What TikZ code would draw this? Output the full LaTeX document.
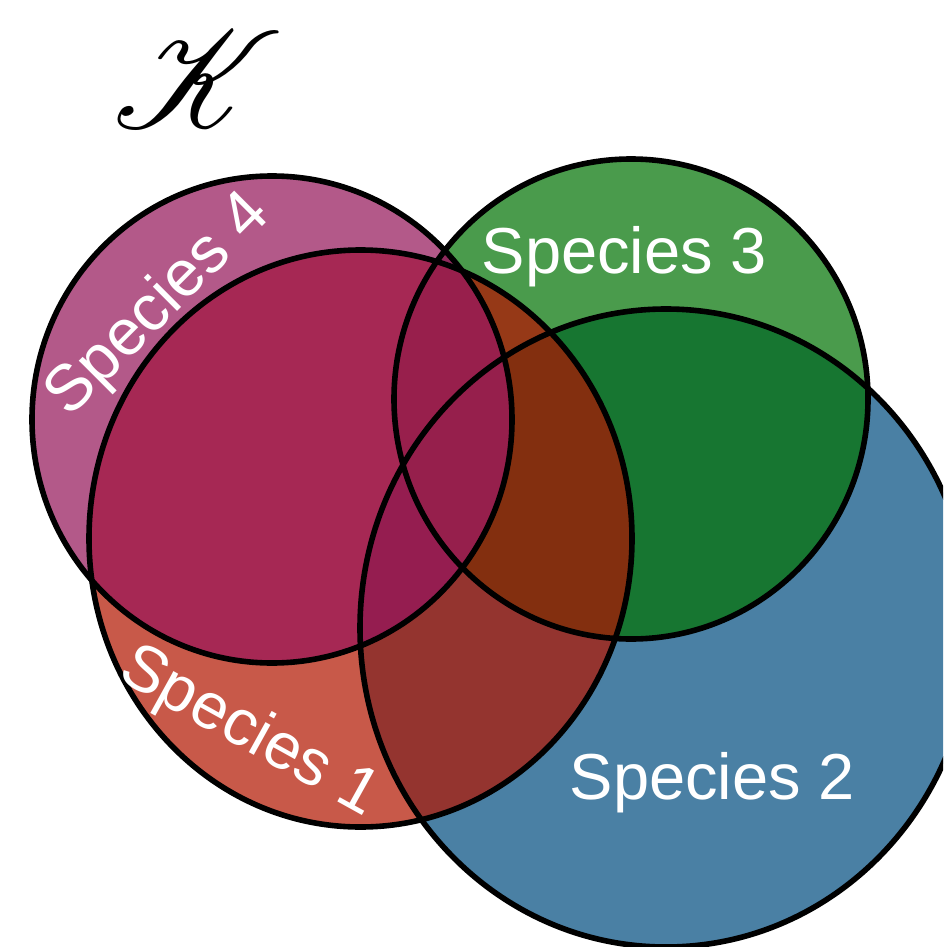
\documentclass[tikz,border=0pt]{standalone}
\usepackage{fontspec}
\setmainfont{Liberation Sans}
\usepackage{mathrsfs}
\newcommand\cirA{(360.5,538.5) ellipse [x radius=271.5pt, y radius=288.5pt]}
\newcommand\cirB{(666,628) ellipse [x radius=306pt, y radius=319pt]}
\newcommand\cirC{(631,399) ellipse [x radius=237pt, y radius=240pt]}
\newcommand\cirD{(272,419.5) ellipse [x radius=240pt, y radius=243.5pt]}
\definecolor{cA}{HTML}{C85949}
\definecolor{cB}{HTML}{4A80A4}
\definecolor{cC}{HTML}{4A9B4C}
\definecolor{cD}{HTML}{B35989}
\definecolor{cAB}{HTML}{94342F}
\definecolor{cAC}{HTML}{963917}
\definecolor{cAD}{HTML}{A62854}
\definecolor{cBC}{HTML}{177631}
\definecolor{cBD}{HTML}{951D50}
\definecolor{cCD}{HTML}{8E2A5C}
\definecolor{cABC}{HTML}{832F0F}
\definecolor{cABD}{HTML}{951D50}
\definecolor{cACD}{HTML}{981F4C}
\definecolor{cBCD}{HTML}{961F4C}
\definecolor{cABCD}{HTML}{961F4C}
\tikzset{
  lab/.style={text=white, inner sep=0pt, font=\fontsize{65}{65}\selectfont},
  ring/.style={draw=black, line width=5.6pt}
}
\begin{document}
\begin{tikzpicture}[x=1pt,y=-1pt]
\useasboundingbox (0,0) rectangle (943,947);
\clip (0,0) rectangle (943,947);
% single regions
\fill[cA] \cirA;
\fill[cB] \cirB;
\fill[cC] \cirC;
\fill[cD] \cirD;
% pairs
\begin{scope}\clip \cirA; \fill[cAB] \cirB;\end{scope}
\begin{scope}\clip \cirA; \fill[cAC] \cirC;\end{scope}
\begin{scope}\clip \cirA; \fill[cAD] \cirD;\end{scope}
\begin{scope}\clip \cirB; \fill[cBC] \cirC;\end{scope}
\begin{scope}\clip \cirB; \fill[cBD] \cirD;\end{scope}
\begin{scope}\clip \cirC; \fill[cCD] \cirD;\end{scope}
% triples
\begin{scope}\clip \cirA; \clip \cirB; \fill[cABC] \cirC;\end{scope}
\begin{scope}\clip \cirA; \clip \cirB; \fill[cABD] \cirD;\end{scope}
\begin{scope}\clip \cirA; \clip \cirC; \fill[cACD] \cirD;\end{scope}
\begin{scope}\clip \cirB; \clip \cirC; \fill[cBCD] \cirD;\end{scope}
% all four
\begin{scope}\clip \cirA; \clip \cirB; \clip \cirC; \fill[cABCD] \cirD;\end{scope}
% outlines
\draw[ring] \cirD;
\draw[ring] \cirA;
\draw[ring] \cirC;
\draw[ring] \cirB;
% labels
\node[lab, rotate=45] (s4) at (159,306) {Species 4};
\node[lab, rotate=-29] (s1) at (249,733) {Species 1};
\node[lab] (s3) at (624.5,257) {Species 3};
\node[lab] (s2) at (712.5,783) {Species 2};
\node[inner sep=0pt, font=\fontsize{10}{12}\selectfont, scale=13.8] (k) at (198,79) {$\mathscr{K}$};
\end{tikzpicture}
\end{document}
